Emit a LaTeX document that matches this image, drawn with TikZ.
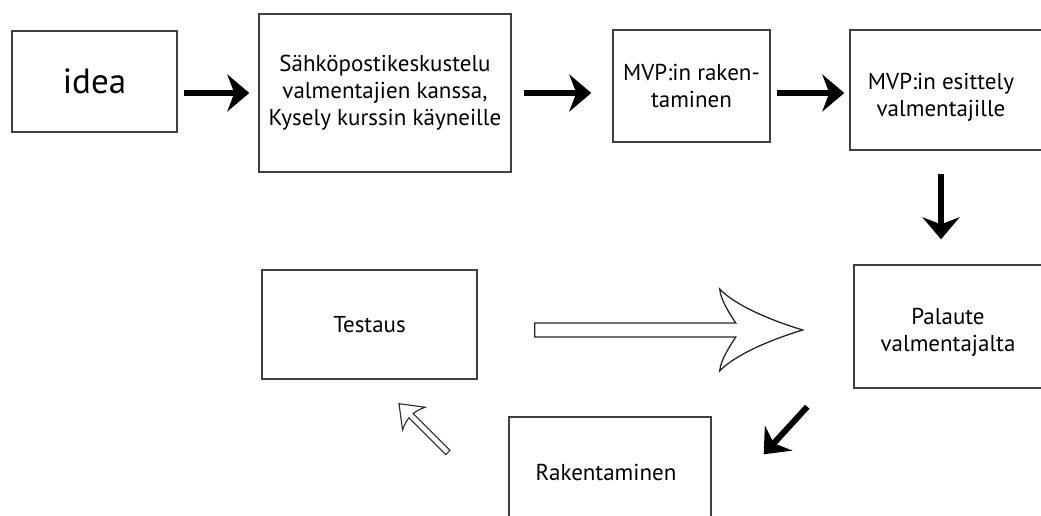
\documentclass[tikz,border=0pt]{standalone}
\usepackage{fontspec}
\setmainfont{PT Sans}
\usetikzlibrary{arrows.meta,calc}

\tikzset{
  box/.style={draw=black!75, line width=1.4pt, rectangle, align=center, text=black,
    font=\fontsize{23}{27}\selectfont},
  boxtext/.style={align=center, text=black, inner sep=0pt, font=\fontsize{23}{27}\selectfont},
  bigarrow/.style={line width=6pt, -{Stealth[length=22pt,width=37pt,inset=7pt]}},
  hollow/.style={draw=black!85, line width=1.3pt, fill=white, line join=miter},
}

\begin{document}
\begin{tikzpicture}[x=1pt,y=-1pt]
    \useasboundingbox (0,0) rectangle (1041,516);
    \clip (0,0) rectangle (1041,516);

    % Upper row of boxes
    \node[box, minimum width=165pt, minimum height=101pt, font=\fontsize{35}{40}\selectfont] (idea) at (94.5,81.5) {idea};
    \node[box, minimum width=252pt, minimum height=158pt] (email) at (385,93)
        {Sähköpostikeskustelu\\valmentajien kanssa,\\Kysely kurssin käyneille};
    \node[box, minimum width=157pt, minimum height=112pt] (mvpa) at (691.5,86) {MVP:in raken-\\taminen};
    \node[box, minimum width=230pt, minimum height=120pt] (mvpb) at (965,90) {};
    \node[boxtext] (mvpbtxt) at (941,97) {MVP:in esittely\\valmentajille};

    % Lower boxes (partly cut by the page edge)
    \node[box, minimum width=226pt, minimum height=123pt] (palaute) at (967,326.5) {};
    \node[boxtext] (palautetxt) at (948,332) {Palaute\\valmentajalta};
    \node[box, minimum width=202pt, minimum height=143pt] (rakent) at (610,488.5) {};
    \node[boxtext] (rakenttxt) at (606,472) {Rakentaminen};
    \node[box, minimum width=215pt, minimum height=109pt] (testaus) at (369.5,324.5) {Testaus};

    % Solid arrows
    \draw[bigarrow, shorten <=6pt, shorten >=9pt] (idea.east |- email.west) -- (email.west);
    \draw[bigarrow, shorten <=12pt, shorten >=21pt] (email.east) -- (mvpa.west |- email.east);
    \draw[bigarrow, shorten <=6pt, shorten >=5pt] (mvpa.east |- email.east) -- (mvpb.west |- email.east);
    \draw[bigarrow, shorten <=23pt, shorten >=25pt] (mvpbtxt |- mvpb.south) -- (mvpbtxt |- palaute.north);
    \coordinate (dtail) at ($(palaute.south west)+(-46,18)$);
    \coordinate (dtip) at ($(rakent.north east)+(52,38)$);
    \draw[bigarrow] (dtail) -- (dtip);

    % Hollow arrow from Testaus towards Palaute
    \begin{scope}[shift={($(testaus.east)+(57,5.5)$)}]
        \draw[hollow] (0,-7) -- (201,-7) .. controls (194,-18) and (186,-30) .. (185,-41)
            .. controls (200,-25) and (235,-10) .. (268,0)
            .. controls (235,10) and (200,25) .. (185,41)
            .. controls (186,30) and (194,18) .. (201,7) -- (0,7) -- cycle;
    \end{scope}

    % Small hollow arrow back to Testaus
    \coordinate (stip) at ($(testaus.south)+(29.5,24)$);
    \begin{scope}[shift={(stip)}, rotate=-45]
        \draw[hollow, line width=1.1pt] (0,0) -- (21,-16) .. controls (18,-9) .. (17,-3) -- (69,-3)
            -- (69,3) -- (17,3) .. controls (18,9) .. (21,16) -- cycle;
    \end{scope}
\end{tikzpicture}
\end{document}
